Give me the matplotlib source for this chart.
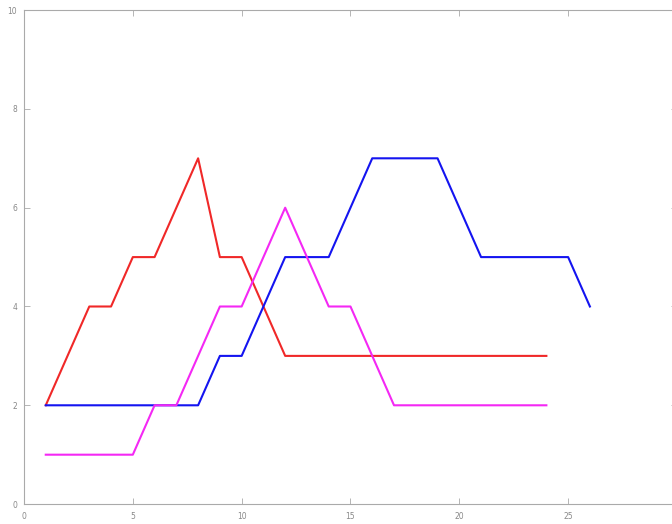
#!/usr/bin/env python3
"""Three step-like series plotted over integer x positions."""

import matplotlib
matplotlib.use('Agg')
import matplotlib.pyplot as plt

# Series values, one per integer x starting at 1
red_x = list(range(1, 25))
red_y = [2, 3, 4, 4, 5, 5, 6, 7, 5, 5, 4, 3, 3, 3, 3, 3, 3, 3, 3, 3, 3, 3, 3, 3]

blue_x = list(range(1, 27))
blue_y = [2, 2, 2, 2, 2, 2, 2, 2, 3, 3, 4, 5, 5, 5, 6, 7, 7, 7, 7, 6, 5, 5, 5, 5, 5, 4]

magenta_x = list(range(1, 25))
magenta_y = [1, 1, 1, 1, 1, 2, 2, 3, 4, 4, 5, 6, 5, 4, 4, 3, 2, 2, 2, 2, 2, 2, 2, 2]

x_ticks = [0, 5, 10, 15, 20, 25, 30]
y_ticks = [0, 2, 4, 6, 8, 10]

fig = plt.figure(figsize=(6.72, 5.24), dpi=100)
ax = fig.add_axes([0.0357, 0.038, 0.9717, 0.9427])

ax.plot(red_x, red_y, color='#f02828', linewidth=1.5)
ax.plot(blue_x, blue_y, color='#1414f0', linewidth=1.5)
ax.plot(magenta_x, magenta_y, color='#f428f4', linewidth=1.5)

ax.set_xlim(0, 30)
ax.set_ylim(0, 10)
ax.set_xticks(x_ticks)
ax.set_yticks(y_ticks)

gray = '#aaaaaa'
for spine in ax.spines.values():
    spine.set_color(gray)
    spine.set_linewidth(0.8)
ax.tick_params(direction='in', length=4, width=0.6, color=gray,
               labelcolor='#888888', labelsize=5.5,
               top=True, right=True)
ax.tick_params(axis='x', pad=6)
ax.tick_params(axis='y', pad=5)

fig.savefig('out.png', dpi=100)
